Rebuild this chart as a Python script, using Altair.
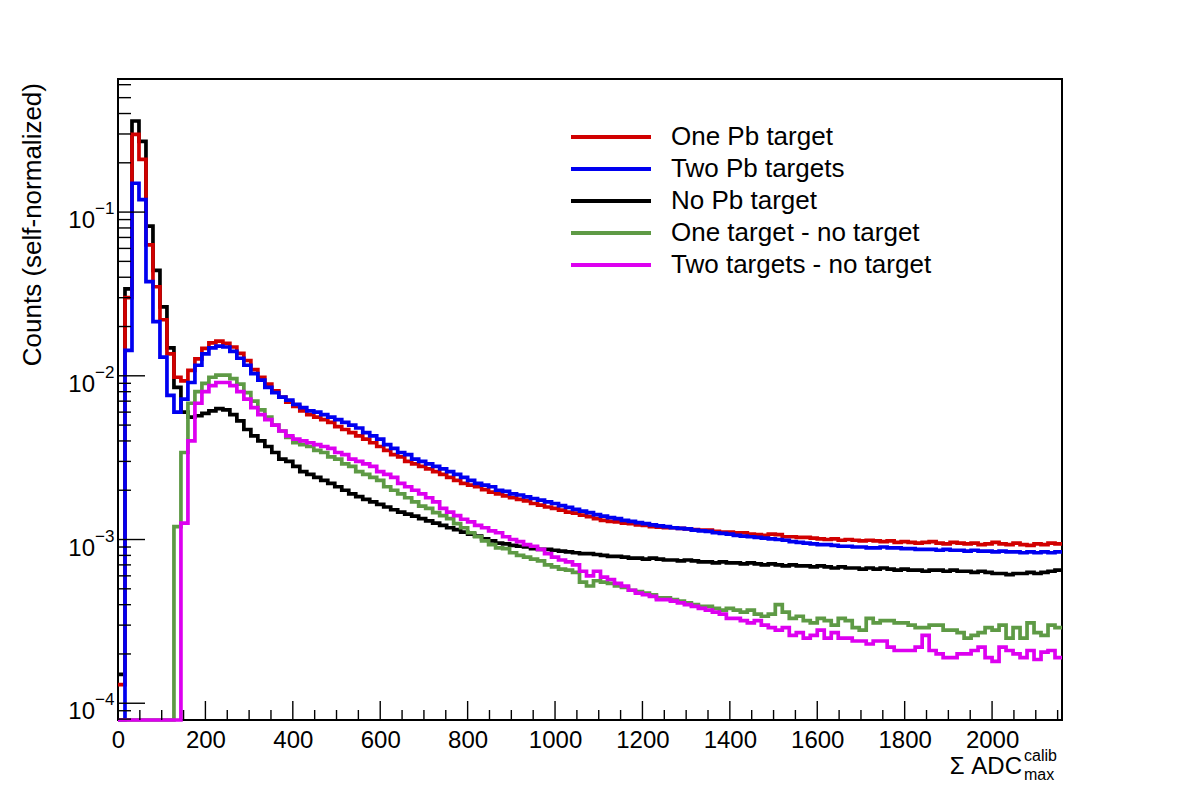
import altair as alt
import pandas as pd

# ---------------- data ----------------
BIN_W = 16          # histogram bin width in ADC units
X_MAX = 2160
Y_MIN = 7.9e-5
Y_MAX = 0.65

names = ["One Pb target", "Two Pb targets", "No Pb target",
         "One target - no target", "Two targets - no target"]
colors = ["#d10000", "#0000f0", "#000000", "#5e9a45", "#dd00f0"]
draw_order = ["No Pb target", "One Pb target", "Two Pb targets",
              "One target - no target", "Two targets - no target"]

one_pb = [
    1.3e-4, 0.030, 0.298, 0.21, 0.063, 0.035, 0.022, 0.0136, 0.0098, 0.0093,
    0.0108, 0.0127, 0.0147, 0.0159, 0.0163, 0.0158, 0.0150, 0.0137, 0.0124, 0.0109,
    0.0098, 0.0089, 0.0081, 0.0074, 0.0069, 0.0065, 0.0061, 0.0058, 0.0056, 0.0054,
    0.0052, 0.0049, 0.0047, 0.0045, 0.0043, 0.0041, 0.0039, 0.0037, 0.0035, 0.0033,
    0.0032, 0.0030, 0.0029, 0.0028, 0.0027, 0.0026, 0.0025, 0.0024, 0.0023, 0.0022,
    0.00215, 0.0021, 0.00202, 0.00195, 0.0019, 0.00185, 0.0018, 0.00176, 0.00172, 0.00166,
    0.00162, 0.00158, 0.00155, 0.00151, 0.00147, 0.00145, 0.00141, 0.00138, 0.00134, 0.00131,
    0.00129, 0.00128, 0.00126, 0.00125, 0.00123, 0.00122, 0.0012, 0.00119, 0.00118, 0.00118,
    0.00117, 0.00116, 0.00115, 0.00114, 0.00114, 0.00112, 0.00111, 0.00111, 0.0011, 0.0011,
    0.00108, 0.00107, 0.00106, 0.00108, 0.00107, 0.00104, 0.00104, 0.00103, 0.00103, 0.00102,
    0.00101, 0.001, 0.00101, 0.00099, 0.001, 0.00099, 0.00098, 0.00099, 0.00098, 0.00097,
    0.00098, 0.00096, 0.00097, 0.00096, 0.00095, 0.00096, 0.00097, 0.00095, 0.00094, 0.00096,
    0.00095, 0.00094, 0.00095, 0.00093, 0.00094, 0.00096, 0.00094, 0.00093, 0.00095, 0.00093,
    0.00092, 0.00094, 0.00093, 0.00095, 0.00094,
]

two_pb = [
    0, 0.0143, 0.150, 0.119, 0.0376, 0.0214, 0.0130, 0.0076, 0.0060, 0.0072,
    0.0091, 0.0116, 0.0136, 0.0148, 0.0152, 0.0150, 0.0141, 0.0128, 0.0116, 0.0103,
    0.0094, 0.0085, 0.0079, 0.0074, 0.0071, 0.0067, 0.0064, 0.0061, 0.0060, 0.0058,
    0.0056, 0.0054, 0.0052, 0.0050, 0.0048, 0.0045, 0.0043, 0.0041, 0.0038, 0.0036,
    0.0034, 0.0033, 0.0031, 0.0030, 0.0029, 0.0028, 0.0027, 0.0026, 0.0025, 0.0024,
    0.0023, 0.0022, 0.00215, 0.0021, 0.0020, 0.00197, 0.0019, 0.00187, 0.00182, 0.00178,
    0.00174, 0.0017, 0.00166, 0.00161, 0.00157, 0.00153, 0.00149, 0.00146, 0.00142, 0.00139,
    0.00136, 0.00134, 0.00131, 0.00129, 0.00127, 0.00125, 0.00123, 0.00121, 0.0012, 0.00118,
    0.00117, 0.00116, 0.00114, 0.00113, 0.00112, 0.0011, 0.00109, 0.00108, 0.00106, 0.00105,
    0.00104, 0.00103, 0.00102, 0.00101, 0.001, 0.00099, 0.00097, 0.00096, 0.00095, 0.00094,
    0.00093, 0.00093, 0.00092, 0.00091, 0.00091, 0.0009, 0.0009, 0.00089, 0.00089, 0.0009,
    0.00089, 0.00089, 0.00088, 0.00088, 0.00087, 0.00087, 0.00087, 0.00086, 0.00087, 0.00086,
    0.00086, 0.00085, 0.00086, 0.00085, 0.00085, 0.00084, 0.00085, 0.00084, 0.00084, 0.00083,
    0.00084, 0.00083, 0.00084, 0.00083, 0.00084,
]

no_pb = [
    1.5e-4, 0.034, 0.36, 0.27, 0.082, 0.044, 0.0264, 0.0148, 0.0085, 0.0060,
    0.0056, 0.0057, 0.0059, 0.0061, 0.0063, 0.0062, 0.0058, 0.0053, 0.0047, 0.0043,
    0.0040, 0.0037, 0.0034, 0.0031, 0.0030, 0.0028, 0.0026, 0.0025, 0.0024, 0.0023,
    0.0022, 0.0021, 0.0020, 0.0019, 0.00183, 0.00176, 0.0017, 0.00164, 0.00158, 0.00152,
    0.00147, 0.00143, 0.00139, 0.00134, 0.0013, 0.00126, 0.00122, 0.00118, 0.00115, 0.00111,
    0.00108, 0.00105, 0.00101, 0.00098, 0.00095, 0.00094, 0.00092, 0.00091, 0.0009, 0.00088,
    0.00087, 0.00087, 0.00086, 0.00085, 0.00084, 0.00083, 0.00082, 0.00082, 0.00081, 0.0008,
    0.00079, 0.00079, 0.00078, 0.00077, 0.00077, 0.00076, 0.00077, 0.00076, 0.00075, 0.00075,
    0.00074, 0.00075, 0.00074, 0.00073, 0.00073, 0.00072, 0.00073, 0.00072, 0.00072, 0.00071,
    0.00072, 0.00071, 0.0007, 0.00071, 0.0007, 0.00069, 0.0007, 0.00069, 0.00069, 0.00068,
    0.00069, 0.00068, 0.00067, 0.00068, 0.00067, 0.00067, 0.00066, 0.00067, 0.00066, 0.00067,
    0.00066, 0.00065, 0.00066, 0.00065, 0.00065, 0.00064, 0.00065, 0.00065, 0.00064, 0.00065,
    0.00064, 0.00064, 0.00063, 0.00064, 0.00063, 0.00062, 0.00062, 0.00061, 0.00062, 0.00062,
    0.00063, 0.00062, 0.00063, 0.00064, 0.00065,
]

one_minus_none = [
    0, 0, 0, 0, 0, 0, 0, 0, 0.0012, 0.0034,
    0.0068, 0.0080, 0.0090, 0.0098, 0.0101, 0.0101, 0.0096, 0.0089, 0.0079, 0.0070,
    0.0062, 0.0056, 0.0050, 0.0046, 0.0042, 0.0039, 0.0038, 0.0037, 0.0035, 0.0034,
    0.0032, 0.0031, 0.0029, 0.0028, 0.0026, 0.0025, 0.0024, 0.0023, 0.0021, 0.0020,
    0.0019, 0.0018, 0.0017, 0.0016, 0.00155, 0.00146, 0.0014, 0.00134, 0.00125, 0.00118,
    0.0011, 0.00104, 0.00098, 0.00093, 0.00089, 0.00088, 0.00083, 0.0008, 0.00078, 0.00076,
    0.00074, 0.0007, 0.00068, 0.00066, 0.00065, 0.00063, 0.00055, 0.00052, 0.00056, 0.00055,
    0.00054, 0.00052, 0.00051, 0.00049, 0.00048, 0.00047, 0.00046, 0.00044, 0.00044, 0.00043,
    0.00042, 0.00041, 0.0004, 0.00039, 0.00039, 0.00038, 0.00037, 0.00038, 0.00037, 0.00036,
    0.00037, 0.00035, 0.00034, 0.00035, 0.0004, 0.00036, 0.00033, 0.00034, 0.00032, 0.00031,
    0.00033, 0.00032, 0.0003, 0.00033, 0.00032, 0.00029, 0.00028, 0.00033, 0.00031, 0.00032,
    0.00032, 0.00031, 0.00031, 0.0003, 0.00029, 0.00029, 0.0003, 0.0003, 0.00028, 0.00028,
    0.00027, 0.00025, 0.00026, 0.00027, 0.00029, 0.00028, 0.0003, 0.00025, 0.00029, 0.00025,
    0.00031, 0.00027, 0.00026, 0.0003, 0.00029,
]

two_minus_none = [
    0, 0, 0, 0, 0, 0, 0, 0, 0, 0.00126,
    0.0040, 0.0068, 0.0080, 0.0087, 0.0091, 0.0091, 0.0087, 0.0080, 0.0072, 0.0064,
    0.0058, 0.0054, 0.0050, 0.0046, 0.0043, 0.0041, 0.0040, 0.0039, 0.0038, 0.0037,
    0.0036, 0.0034, 0.0033, 0.0031, 0.0030, 0.0029, 0.0028, 0.0026, 0.0025, 0.0024,
    0.0022, 0.0021, 0.0020, 0.0019, 0.0018, 0.0017, 0.00155, 0.00147, 0.0014, 0.00133,
    0.00128, 0.00122, 0.00118, 0.00113, 0.0011, 0.00104, 0.001, 0.00097, 0.00093, 0.00091,
    0.00087, 0.00082, 0.00078, 0.00075, 0.00073, 0.0007, 0.00064, 0.0006, 0.00064, 0.00059,
    0.00057, 0.00054, 0.00052, 0.00049, 0.00047, 0.00046, 0.00045, 0.00043, 0.00043, 0.00042,
    0.00041, 0.0004, 0.00039, 0.00038, 0.00037, 0.00036, 0.00035, 0.00033, 0.00033, 0.00032,
    0.00031, 0.00032, 0.0003, 0.00029, 0.00028, 0.00029, 0.00026, 0.00027, 0.00025, 0.00026,
    0.00028, 0.00025, 0.00027, 0.00025, 0.00025, 0.00024, 0.00024, 0.00023, 0.00024, 0.00024,
    0.00022, 0.00021, 0.00021, 0.00021, 0.00022, 0.00026, 0.00021, 0.0002, 0.00019, 0.00019,
    0.0002, 0.0002, 0.00021, 0.00022, 0.00019, 0.00018, 0.00022, 0.00021, 0.0002, 0.00019,
    0.00021, 0.000185, 0.000205, 0.00021, 0.00019,
]

# axis ticks / labels
x_major = [0, 200, 400, 600, 800, 1000, 1200, 1400, 1600, 1800, 2000]
x_minor = [v for v in range(50, X_MAX + 1, 50) if v % 200 != 0]
y_major = [1e-4, 1e-3, 1e-2, 1e-1]
y_major_exp = ["\u22124", "\u22123", "\u22122", "\u22121"]
y_minor = [8e-5, 9e-5] + [m * d for d in (1e-4, 1e-3, 1e-2) for m in range(2, 10)] + \
          [0.2, 0.3, 0.4, 0.5, 0.6]

x_title_main = "\u03a3 ADC"
x_title_sup = "calib"
x_title_sub = "max"
y_title = "Counts (self-normalized)"

# ---------------- build table ----------------
series = dict(zip(names, [one_pb, two_pb, no_pb, one_minus_none, two_minus_none]))
rows = []
for name, vals in series.items():
    for k, v in enumerate(vals):
        rows.append({"series": name, "x": k * BIN_W, "v": v})
    rows.append({"series": name, "x": len(vals) * BIN_W, "v": vals[-1]})  # close last bin
df = pd.DataFrame(rows)

FONT = "Liberation Sans"
W, H = 944, 641

xscale = alt.Scale(domain=[0, X_MAX], nice=False, zero=False)
yscale = alt.Scale(type="log", domain=[Y_MIN, Y_MAX], nice=False)
xaxis = alt.Axis(values=x_major, format="d", labelFont=FONT, labelFontSize=24,
                 labelColor="black", labelPadding=8, ticks=False, domain=False,
                 grid=False, title=None, labelFlush=False, labelOverlap=False)

legend = alt.Legend(title=None, orient="none", legendX=480, legendY=45,
                    symbolType="M-8,0H8", symbolSize=100, symbolStrokeWidth=4,
                    labelFont=FONT, labelFontSize=26, labelColor="black",
                    labelOffset=47, labelLimit=600, rowPadding=6, padding=0)
color = alt.Color("series:N", scale=alt.Scale(domain=names, range=colors), legend=legend)

layers = []
for name in draw_order:
    layers.append(
        alt.Chart(df)
        .transform_filter(alt.datum.series == name)
        .transform_calculate(vy=f"max(datum.v, {Y_MIN})")
        .mark_line(interpolate="step-after", strokeWidth=3.7)
        .encode(x=alt.X("x:Q", scale=xscale, axis=xaxis),
                y=alt.Y("vy:Q", scale=yscale, axis=None),
                color=color)
    )

# tick marks (drawn inside the frame, ROOT style)
layers.append(alt.Chart(pd.DataFrame({"t": x_major})).mark_rule(color="black", strokeWidth=1.4)
              .encode(x=alt.X("t:Q", scale=xscale, axis=xaxis), y=alt.value(H), y2=alt.value(H - 19)))
layers.append(alt.Chart(pd.DataFrame({"t": x_minor})).mark_rule(color="black", strokeWidth=1.4)
              .encode(x=alt.X("t:Q", scale=xscale, axis=xaxis), y=alt.value(H), y2=alt.value(H - 10)))
layers.append(alt.Chart(pd.DataFrame({"t": y_major})).mark_rule(color="black", strokeWidth=1.4)
              .encode(y=alt.Y("t:Q", scale=yscale, axis=None), x=alt.value(0), x2=alt.value(27)))
layers.append(alt.Chart(pd.DataFrame({"t": y_minor})).mark_rule(color="black", strokeWidth=1.4)
              .encode(y=alt.Y("t:Q", scale=yscale, axis=None), x=alt.value(0), x2=alt.value(13)))

# y tick labels 10^n
ylab = pd.DataFrame({"t": y_major, "base": ["10"] * len(y_major), "exp": y_major_exp})
layers.append(alt.Chart(ylab).mark_text(font=FONT, fontSize=24, align="right", baseline="alphabetic",
                                        dy=16, color="black")
              .encode(y=alt.Y("t:Q", scale=yscale, axis=None), x=alt.value(-23), text="base:N"))
layers.append(alt.Chart(ylab).mark_text(font=FONT, fontSize=17, align="left", baseline="alphabetic",
                                        dy=2, color="black")
              .encode(y=alt.Y("t:Q", scale=yscale, axis=None), x=alt.value(-23), text="exp:N"))

# axis titles
layers.append(alt.Chart(pd.DataFrame({"t": [x_title_main]})).mark_text(
    font=FONT, fontSize=24, align="right", baseline="alphabetic", color="black")
    .encode(x=alt.value(904), y=alt.value(695), text="t:N"))
layers.append(alt.Chart(pd.DataFrame({"t": [x_title_sup]})).mark_text(
    font=FONT, fontSize=16, align="left", baseline="alphabetic", color="black")
    .encode(x=alt.value(906), y=alt.value(682), text="t:N"))
layers.append(alt.Chart(pd.DataFrame({"t": [x_title_sub]})).mark_text(
    font=FONT, fontSize=16, align="left", baseline="alphabetic", color="black")
    .encode(x=alt.value(906), y=alt.value(701), text="t:N"))
layers.append(alt.Chart(pd.DataFrame({"t": [y_title]})).mark_text(
    font=FONT, fontSize=26, align="right", baseline="middle", angle=270, color="black")
    .encode(x=alt.value(-85), y=alt.value(4), text="t:N"))

chart = (
    alt.layer(*layers)
    .properties(width=W, height=H, background="white",
                padding={"left": 110, "top": 71, "right": 100, "bottom": 70},
                autosize=alt.AutoSizeParams(type="none"))
    .configure_view(stroke="black", strokeWidth=2)
)

chart.save("out.html", embed_options={"renderer": "svg", "actions": False})
